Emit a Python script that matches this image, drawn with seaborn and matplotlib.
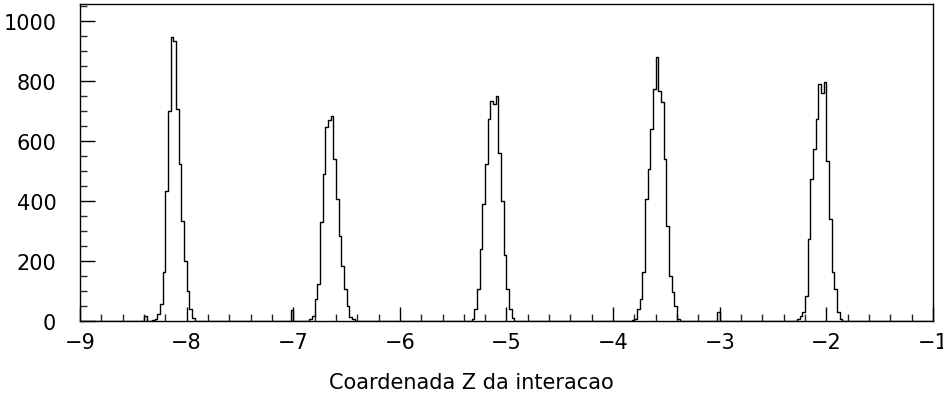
import numpy as np
import pandas as pd
import matplotlib.pyplot as plt
import seaborn as sns

# Histogram of the interaction Z coordinate (bin width 0.025 from -9 to -1)
bin_width = 0.025
x_min, x_max = -9.0, -1.0

# each peak: left edge of its first bin and the bin counts
peak1_start = -8.325
peak1_counts = [3, 8, 23, 57, 163, 433, 700, 947, 933, 707, 523, 333, 200, 100, 40, 10]
peak2_start = -6.85
peak2_counts = [5, 17, 73, 123, 330, 490, 647, 670, 683, 540, 407, 283, 183, 107, 50, 13, 5]
peak3_start = -5.325
peak3_counts = [7, 40, 107, 240, 390, 523, 673, 733, 723, 750, 560, 400, 220, 107, 40, 10]
peak4_start = -3.825
peak4_counts = [3, 7, 40, 73, 163, 407, 507, 640, 773, 880, 767, 730, 540, 317, 150, 97, 50, 7]
peak5_start = -2.275
peak5_counts = [5, 17, 30, 83, 273, 473, 573, 673, 790, 760, 795, 533, 340, 163, 107, 30, 7]

# a few lonely bins between the peaks
stray_pos = [-8.4, -7.025, -3.025]
stray_counts = [15, 35, 30]

y_ticks = [0, 200, 400, 600, 800, 1000]
x_ticks = [-9, -8, -7, -6, -5, -4, -3, -2, -1]

# build the full binned array
n_bins = int(round((x_max - x_min) / bin_width))
counts = np.zeros(n_bins)
for start, vals in [(peak1_start, peak1_counts), (peak2_start, peak2_counts),
                    (peak3_start, peak3_counts), (peak4_start, peak4_counts),
                    (peak5_start, peak5_counts)]:
    i0 = int(round((start - x_min) / bin_width))
    counts[i0:i0 + len(vals)] = vals
for pos, c in zip(stray_pos, stray_counts):
    counts[int(round((pos - x_min) / bin_width))] = c
df = pd.DataFrame({'z': x_min + (np.arange(n_bins) + 0.5) * bin_width, 'n': counts})

sns.set_style("white")
plt.rcParams['font.family'] = ['DejaVu Sans']

fig = plt.figure(figsize=(9.43, 4.06), dpi=100)
ax = fig.add_axes([0.0848, 0.2069, 0.9046, 0.7808])

sns.histplot(data=df, x='z', weights='n', binwidth=bin_width, binrange=(x_min, x_max),
             element='step', fill=False, color='black', linewidth=1.0, ax=ax)

ax.set_xlim(x_min, x_max)
ax.set_ylim(0, 1056)
ax.set_xticks(x_ticks)
ax.set_xticks(np.arange(-9, -1 + 0.001, 0.2), minor=True)
ax.set_yticks(y_ticks)
ax.set_yticks(np.arange(0, 1051, 50), minor=True)
ax.tick_params(axis='x', which='major', direction='in', length=10, width=1, pad=8,
               labelsize=15, colors='black', bottom=True)
ax.tick_params(axis='x', which='minor', direction='in', length=5, width=1, bottom=True)
ax.tick_params(axis='y', which='major', direction='in', length=11, width=1, pad=17,
               labelsize=15, colors='black', left=True)
ax.tick_params(axis='y', which='minor', direction='in', length=5, width=1, left=True)

ax.set_xlabel('')
ax.set_ylabel('')
for s in ax.spines.values():
    s.set_color('black')
    s.set_linewidth(1.0)

fig.text(0.5, 1 - 383 / 406, 'Coardenada Z da interacao', ha='center', va='center',
         fontsize=15, color='black')

fig.savefig('out.png', dpi=100, facecolor='white')
